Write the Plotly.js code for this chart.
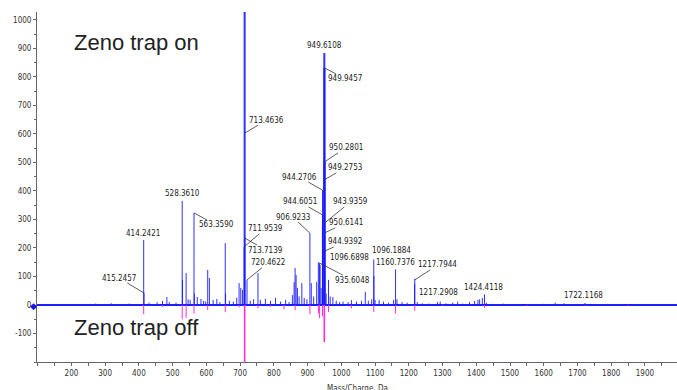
<!DOCTYPE html>
<html>
<head>
<meta charset="utf-8">
<script src="https://cdn.plot.ly/plotly-3.0.1.min.js"></script>
<style>html,body{margin:0;padding:0;background:#fff;}#chart{width:677px;height:390px;}</style>
</head>
<body>
<div id="chart"></div>
<script>
// ---- Data ----
// Zeno trap on (blue, upward)
const onMz = [180, 272, 318, 371, 414.2421, 415.2457, 430, 454, 470, 483, 490,
  510, 528.3610, 529.36, 540, 546, 552, 563.3590, 564.36, 573, 584, 592, 598,
  604, 609, 620, 631, 640, 656, 657, 668, 680, 690, 697, 702, 707,
  711.9539, 713.4636, 713.7139, 720.4622, 730, 740, 753, 760, 775, 790,
  805, 820, 835, 845, 855, 860, 863, 866, 870, 875, 883, 890, 898,
  906.9233, 911, 918, 927, 932, 935.6048, 937, 940, 943.9359, 944.2706, 944.6051, 944.9392,
  949.2753, 949.6108, 949.9457, 950.2801, 950.6141, 955, 962, 967, 975, 985, 995,
  1005, 1020, 1030, 1045, 1060, 1071, 1080, 1090, 1096.1884, 1096.6898,
  1100, 1112, 1125, 1140, 1155, 1160.7376, 1165, 1180, 1195,
  1217.2908, 1217.7944, 1225, 1240, 1260, 1285, 1293, 1310, 1330, 1345, 1360, 1380, 1395,
  1405, 1410, 1418, 1424.4118, 1430, 1450, 1480, 1540, 1600, 1634, 1660, 1722.1168, 1800, 1880];
const onInt = [3, 5, 6, 5, 228, 42, 8, 10, 14, 28, 10,
  8, 365, 88, 112, 20, 18, 323, 40, 28, 21, 15, 12,
  123, 95, 18, 21, 10, 217, 40, 15, 12, 25, 77, 60, 53,
  204, 1040, 235, 88, 15, 20, 112, 18, 22, 15,
  25, 12, 18, 10, 35, 80, 130, 105, 60, 30, 77, 25, 20,
  252, 77, 30, 81, 150, 147, 140, 60, 281, 403, 316, 186,
  439, 884, 832, 502, 253, 40, 88, 30, 28, 15, 10,
  12, 10, 17, 12, 15, 46, 15, 20, 160, 102,
  18, 18, 12, 8, 18, 125, 20, 10, 8,
  74, 92, 10, 6, 5, 10, 12, 6, 8, 12, 5, 10, 14,
  18, 20, 25, 37, 8, 4, 5, 3, 4, 8, 6, 7, 3, 2];

// Zeno trap off (magenta, downward)
const offMz = [414.2421, 470, 528.3610, 540, 563.3590, 604, 656, 697, 713.4636, 753, 790,
  830, 863, 906.9233, 932, 935.6048, 944.2706, 949.6108, 950.2801, 962, 1030,
  1096.1884, 1160.7376, 1217.7944, 1300, 1424.4118, 1550, 1722.1168, 1850];
const offInt = [-32, -6, -50, -45, -30, -18, -25, -8, -240, -12, -6,
  -15, -18, -32, -30, -46, -40, -130, -50, -25, -12,
  -25, -30, -20, -4, -10, -3, -3, -3];

// Peak labels and the intensity where each leader touches the spectrum
const labelText = ["414.2421", "415.2457", "528.3610", "563.3590", "713.4636", "711.9539",
  "713.7139", "720.4622", "949.6108", "949.9457", "950.2801", "949.2753", "944.2706",
  "944.6051", "943.9359", "906.9233", "950.6141", "944.9392", "1096.6898", "935.6048",
  "1096.1884", "1160.7376", "1217.7944", "1217.2908", "1424.4118", "1722.1168"];
const labelAnchor = [228, 42, 365, 323, 603, 204, 235, 88, 884, 832, 502, 439, 403,
  316, 281, 252, 253, 186, 102, 147, 160, 125, 88, 74, 37, 7];

const xTicks = [200, 300, 400, 500, 600, 700, 800, 900, 1000, 1100, 1200, 1300, 1400, 1500, 1600, 1700, 1800, 1900];
const yTicks = [-100, 0, 100, 200, 300, 400, 500, 600, 700, 800, 900, 1000];

const panelOn = "Zeno trap on";
const panelOff = "Zeno trap off";
const xTitle = "Mass/Charge, Da";

// ---- Label placement (pixel offsets of text from leader anchor; arrow flag), style only ----
const labelStyle = [
  [-1, -7, 0], [-25, -15, 1], [0, -7, 0], [22, 12, 1], [22, -13, 1], [21, -18, 1],
  [21, 12, 1], [21, -17, 1], [0, -8, 0], [21, 11, 1], [21, -14, 1], [21, -12, 1], [-23, -13, 1],
  [-23, -13, 1], [28, -23, 1], [-17, -16, 1], [21, -10, 1], [22, -10, 1], [-24, -18, 0], [33, 17, 1],
  [18, -9, 0], [0, -7, 0], [23, -15, 1], [24, 9, 1], [-1, -7, 0], [-1, -8, 0]];

// pick a narrow font if available, and size it like the reference's compact labels
function measure(fam, txt) {
  const c = document.createElement('canvas').getContext('2d');
  c.font = '40px ' + fam;
  return c.measureText(txt).width;
}
function hasFont(name) {
  const t = '1722.1168 Mass/Charge';
  return measure('"' + name + '", monospace', t) !== measure('monospace', t) ||
         measure('"' + name + '", serif', t) !== measure('serif', t);
}
const candidates = ['Liberation Sans Narrow', 'Arial Narrow', 'DejaVu Sans Condensed', 'Liberation Sans'];
let narrowName = 'Liberation Sans';
for (const c of candidates) { if (hasFont(c)) { narrowName = c; break; } }
const narrow = '"' + narrowName + '", sans-serif';
const w10 = measure(narrow, '1722.1168') / 4; // width at 10px
let labelSize = Math.max(8, Math.min(11, 10 * 39 / w10));
const wTick = measure(narrow, '1000') / 4;
let tickSize = Math.max(8, Math.min(11, 10 * 18 / wTick));

function sticks(mz, it, keep) {
  const x = [], y = [];
  for (let i = 0; i < mz.length; i++) {
    if (!keep(it[i])) continue;
    x.push(mz[i], mz[i], null); y.push(0, it[i], null);
  }
  return {x, y};
}

const blue = 'rgba(25,25,255,0.9)';
const magenta = 'rgb(255,45,220)';
const onSmall = sticks(onMz, onInt, v => v < 500);
const onBig = sticks(onMz, onInt, v => v >= 500);
const offSmall = sticks(offMz, offInt, v => v > -100);
const offBig = sticks(offMz, offInt, v => v <= -100);

const traces = [
  {x: onSmall.x, y: onSmall.y, type: 'scatter', mode: 'lines', line: {color: blue, width: 1}, hoverinfo: 'skip'},
  {x: onBig.x, y: onBig.y, type: 'scatter', mode: 'lines', line: {color: blue, width: 2}, hoverinfo: 'skip'},
  {x: offSmall.x, y: offSmall.y, type: 'scatter', mode: 'lines', line: {color: magenta, width: 1}, hoverinfo: 'skip'},
  {x: offBig.x, y: offBig.y, type: 'scatter', mode: 'lines', line: {color: magenta, width: 1.6}, hoverinfo: 'skip'}
];

const annotations = labelText.map((t, i) => ({
  x: parseFloat(t), y: labelAnchor[i], xref: 'x', yref: 'y',
  text: t, showarrow: true, arrowhead: 0, arrowwidth: 0.8,
  arrowcolor: labelStyle[i][2] ? '#333' : 'rgba(0,0,0,0)',
  ax: labelStyle[i][0], ay: labelStyle[i][1], standoff: 0, borderpad: 0,
  font: {family: narrow, size: labelSize, color: '#222'}
}));
annotations.push(
  {x: 0.055, y: 0.914, xref: 'paper', yref: 'paper', xanchor: 'left', yanchor: 'middle', showarrow: false,
   text: panelOn, font: {family: 'Liberation Sans, Arial, sans-serif', size: 22, color: '#222'}},
  {x: 0.055, y: 0.1, xref: 'paper', yref: 'paper', xanchor: 'left', yanchor: 'middle', showarrow: false,
   text: panelOff, font: {family: 'Liberation Sans, Arial, sans-serif', size: 22, color: '#222'}},
  {x: 0.5, y: -0.077, xref: 'paper', yref: 'paper', xanchor: 'center', yanchor: 'middle', showarrow: false,
   text: xTitle, font: {family: narrow, size: tickSize, color: '#333'}},
  {x: 0, y: 0, xref: 'paper', yref: 'y', xanchor: 'center', yanchor: 'middle', xshift: -4, showarrow: false,
   text: '◆', font: {size: 9, color: 'rgb(20,20,230)'}}
);

const layout = {
  width: 677, height: 390,
  margin: {l: 37, r: 0, t: 12, b: 28},
  paper_bgcolor: '#fff', plot_bgcolor: '#fff',
  showlegend: false,
  xaxis: {
    range: [98, 1995], showgrid: false, zeroline: false,
    showline: true, linecolor: '#666', linewidth: 1,
    ticks: 'outside', ticklen: 3, tickcolor: '#666',
    tickvals: xTicks, ticktext: xTicks.map(String),
    tickfont: {family: narrow, size: tickSize, color: '#333'},
    minor: {tick0: 0, dtick: 50, ticks: 'outside', ticklen: 3, tickcolor: '#666'}
  },
  yaxis: {
    range: [-200, 1028], showgrid: false,
    zeroline: true, zerolinecolor: 'rgb(30,30,255)', zerolinewidth: 1.5,
    showline: true, linecolor: '#666', linewidth: 1,
    ticks: 'outside', ticklen: 3, tickcolor: '#666',
    tickvals: yTicks, ticktext: yTicks.map(String),
    tickfont: {family: narrow, size: tickSize, color: '#333'},
    minor: {tick0: 0, dtick: 50, ticks: 'outside', ticklen: 2, tickcolor: '#666'}
  },
  annotations: annotations
};

Plotly.newPlot('chart', traces, layout, {staticPlot: true, displayModeBar: false});
</script>
</body>
</html>
